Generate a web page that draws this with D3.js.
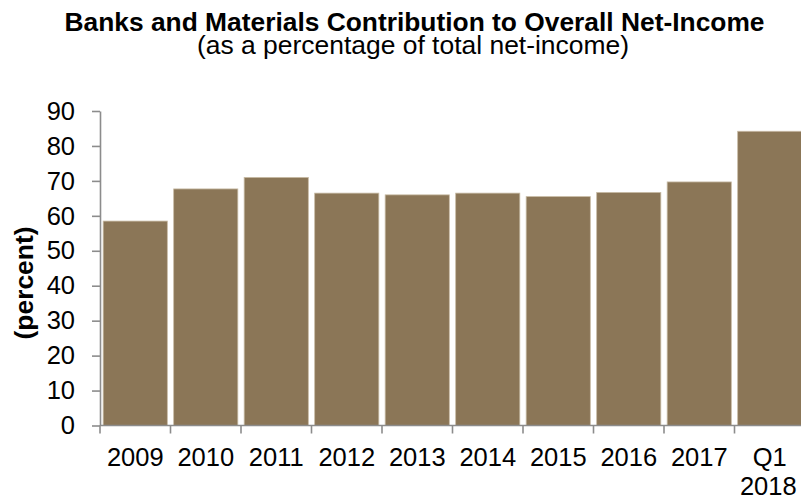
<!DOCTYPE html>
<html>
<head>
<meta charset="utf-8">
<script src="https://cdn.jsdelivr.net/npm/d3@7"></script>
<style>
  html, body { margin: 0; padding: 0; background: #fff; }
  svg { display: block; font-family: "Liberation Sans", Arial, sans-serif; }
</style>
</head>
<body>
<svg id="chart" width="801" height="497"></svg>
<script>
// Share of total net-income coming from banks and materials, by year
const categories = ["2009", "2010", "2011", "2012", "2013", "2014", "2015", "2016", "2017", "Q1\n2018"];
const shares = [58.5, 67.7, 71.0, 66.5, 66.0, 66.5, 65.5, 66.7, 69.7, 84.2];
const yTicks = [0, 10, 20, 30, 40, 50, 60, 70, 80, 90];

const titleText = "Banks and Materials Contribution to Overall Net-Income";
const subtitleText = "(as a percentage of total net-income)";
const yLabelText = "(percent)";

const svg = d3.select("#chart");
const axisColor = "#8c8c8c";
const barColor = "#8b7657";

const plotLeft = 100, plotRight = 805, plotTop = 111, plotBottom = 425.5;

const x = d3.scaleBand()
  .domain(categories)
  .range([plotLeft, plotRight])
  .paddingInner(0.09)
  .paddingOuter(0.045);

const y = d3.scaleLinear().domain([0, 90]).range([plotBottom, plotTop]);

// Titles (slightly wide-set lettering)
svg.append("text")
  .attr("x", 414.5).attr("y", 30.5)
  .attr("text-anchor", "middle")
  .attr("font-size", 25).attr("font-weight", "bold")
  .attr("textLength", 700).attr("lengthAdjust", "spacingAndGlyphs")
  .attr("fill", "#000")
  .text(titleText);

svg.append("text")
  .attr("x", 413).attr("y", 53.5)
  .attr("text-anchor", "middle")
  .attr("font-size", 25)
  .attr("textLength", 432).attr("lengthAdjust", "spacingAndGlyphs")
  .attr("fill", "#000")
  .text(subtitleText);

// Y axis title
svg.append("text")
  .attr("transform", "translate(33,283) rotate(-90)")
  .attr("text-anchor", "middle")
  .attr("font-size", 25).attr("font-weight", "bold")
  .attr("textLength", 113).attr("lengthAdjust", "spacingAndGlyphs")
  .attr("fill", "#000")
  .text(yLabelText);

// Bars
svg.append("g")
  .selectAll("rect")
  .data(categories.map((c, i) => ({ c, v: shares[i] })))
  .join("rect")
  .attr("x", d => x(d.c))
  .attr("y", d => y(d.v))
  .attr("width", x.bandwidth())
  .attr("height", d => y(0) - y(d.v))
  .attr("fill", barColor)
  .attr("stroke", "#c8bba5")
  .attr("stroke-width", 0.8);

// Y axis
const yAxis = svg.append("g")
  .attr("transform", `translate(${plotLeft},0)`)
  .call(d3.axisLeft(y).tickValues(yTicks).tickSize(8).tickPadding(17).tickSizeOuter(0));
yAxis.select(".domain").attr("stroke", axisColor).attr("stroke-width", 1.6);
yAxis.selectAll(".tick line").attr("stroke", axisColor).attr("stroke-width", 1.6);
yAxis.selectAll(".tick text")
  .attr("font-size", 25.5).attr("fill", "#000")
  .attr("font-family", "Liberation Sans, Arial, sans-serif");

// X axis: labels centred in each band, tick marks on the band boundaries
const xAxis = svg.append("g")
  .attr("transform", `translate(0,${plotBottom})`)
  .call(d3.axisBottom(x).tickSize(0).tickPadding(0).tickFormat(() => ""));
xAxis.select(".domain").remove();

xAxis.append("line")
  .attr("x1", plotLeft).attr("x2", 801)
  .attr("y1", 0).attr("y2", 0)
  .attr("stroke", axisColor).attr("stroke-width", 1.6);

const step = x.step();
xAxis.selectAll(".bound")
  .data(categories.map((c, i) => i))
  .join("line")
  .attr("class", "bound")
  .attr("x1", i => plotLeft + i * step).attr("x2", i => plotLeft + i * step)
  .attr("y1", 0).attr("y2", 8)
  .attr("stroke", axisColor).attr("stroke-width", 1.6);

xAxis.selectAll(".tick text").remove();
xAxis.selectAll(".tick").each(function (d) {
  const lines = d.split("\n");
  const t = d3.select(this).append("text")
    .attr("text-anchor", "middle")
    .attr("font-size", 25.5)
    .attr("fill", "#000")
    .attr("font-family", "Liberation Sans, Arial, sans-serif");
  lines.forEach((ln, k) => {
    t.append("tspan")
      .attr("x", k > 0 ? -1.5 : 0)
      .attr("y", 40.5 + k * 29)
      .text(ln);
  });
});
</script>
</body>
</html>
